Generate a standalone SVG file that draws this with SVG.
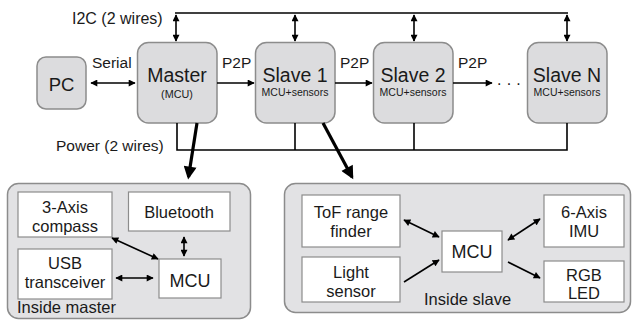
<svg xmlns="http://www.w3.org/2000/svg" width="632" height="320" viewBox="0 0 632 320">
<defs>
<style>
text{font-family:"Liberation Sans",Arial,sans-serif;fill:#1a1a1a}
.node{fill:#dcdcde;stroke:#8c8c8c;stroke-width:1.5}
.panel{fill:#e2e2e4;stroke:#8c8c8c;stroke-width:1.5}
.box{fill:#ffffff;stroke:#8c8c8c;stroke-width:1.2}
.ln{fill:none;stroke:#000;stroke-width:1.6}
.thick{fill:none;stroke:#000;stroke-width:3.2}
.big{font-size:19.5px}
.sub{font-size:10.5px}
.lbl{font-size:15.5px}
.in{font-size:16.5px}
</style>
<marker id="ah" viewBox="0 0 10 10" refX="9" refY="5" markerWidth="8" markerHeight="7" markerUnits="userSpaceOnUse" orient="auto-start-reverse">
<path d="M0,0 L10,5 L0,10 z" fill="#000"/>
</marker>
<marker id="ahb" viewBox="0 0 10 10" refX="8" refY="5" markerWidth="14" markerHeight="13" markerUnits="userSpaceOnUse" orient="auto">
<path d="M0,0 L10,5 L0,10 z" fill="#000"/>
</marker>
</defs>

<g id="labels">
<text class="lbl" x="72" y="24" style="font-size:16px">I2C (2 wires)</text>
<text class="lbl" x="92" y="68">Serial</text>
<text class="lbl" x="222" y="68">P2P</text>
<text class="lbl" x="340" y="68">P2P</text>
<text class="lbl" x="458" y="68">P2P</text>
<text class="lbl" x="56" y="151">Power (2 wires)</text>
<text x="497" y="85" style="font-size:16px;letter-spacing:5.2px">...</text>
</g>

<g id="pc"><rect class="node" x="37" y="57" width="49" height="52" rx="9"/><text x="61.5" y="91" text-anchor="middle" style="font-size:18.5px">PC</text></g>
<g id="master"><rect class="node" x="137.5" y="42.5" width="79.5" height="80.5" rx="11"/><text class="big" x="177" y="82" text-anchor="middle">Master</text><text class="sub" x="177" y="98" text-anchor="middle" style="font-size:10.8px">(MCU)</text></g>
<g id="slave1"><rect class="node" x="255.5" y="42.5" width="79.5" height="80.5" rx="11"/><text class="big" x="295" y="82" text-anchor="middle">Slave 1</text><text class="sub" x="295" y="96" text-anchor="middle">MCU+sensors</text></g>
<g id="slave2"><rect class="node" x="373.5" y="42.5" width="79.5" height="80.5" rx="11"/><text class="big" x="413" y="82" text-anchor="middle">Slave 2</text><text class="sub" x="413" y="96" text-anchor="middle">MCU+sensors</text></g>
<g id="slaveN"><rect class="node" x="527.5" y="42.5" width="79.5" height="80.5" rx="11"/><text class="big" x="567" y="82" text-anchor="middle">Slave N</text><text class="sub" x="567" y="96" text-anchor="middle">MCU+sensors</text></g>

<g id="inside-master">
<rect class="panel" x="7.5" y="183.5" width="243" height="135" rx="11"/>
<rect class="box" x="18" y="192" width="94" height="45"/>
<text class="in" x="65" y="213" text-anchor="middle">3-Axis</text>
<text class="in" x="65" y="231.5" text-anchor="middle">compass</text>
<rect class="box" x="128.5" y="192" width="101.5" height="39"/>
<text class="in" x="179" y="218" text-anchor="middle">Bluetooth</text>
<rect class="box" x="18" y="249" width="94" height="50"/>
<text class="in" x="65" y="269" text-anchor="middle">USB</text>
<text class="in" x="65" y="288" text-anchor="middle">transceiver</text>
<rect class="box" x="159" y="259" width="62" height="39"/>
<text class="in" x="190" y="287" text-anchor="middle" style="font-size:18px">MCU</text>
<text class="in" x="17" y="313">Inside master</text>
</g>

<g id="inside-slave">
<rect class="panel" x="284.5" y="183.5" width="346" height="129" rx="11"/>
<rect class="box" x="302" y="195" width="98" height="52"/>
<text class="in" x="351" y="218" text-anchor="middle">ToF range</text>
<text class="in" x="351" y="237" text-anchor="middle">finder</text>
<rect class="box" x="302" y="257" width="98" height="45"/>
<text class="in" x="351" y="278" text-anchor="middle">Light</text>
<text class="in" x="351" y="297" text-anchor="middle">sensor</text>
<rect class="box" x="442" y="231" width="60" height="41"/>
<text class="in" x="472" y="258" text-anchor="middle" style="font-size:18px">MCU</text>
<rect class="box" x="544" y="195" width="80" height="52"/>
<text class="in" x="584" y="218" text-anchor="middle">6-Axis</text>
<text class="in" x="584" y="237" text-anchor="middle">IMU</text>
<rect class="box" x="544" y="261" width="80" height="41"/>
<text class="in" x="584" y="281" text-anchor="middle">RGB</text>
<text class="in" x="584" y="299" text-anchor="middle">LED</text>
<text class="in" x="424" y="305">Inside slave</text>
</g>

<g id="connectors">
<line class="ln" x1="175" y1="13" x2="568" y2="13"/>
<line class="ln" x1="176" y1="15" x2="176" y2="41" marker-start="url(#ah)" marker-end="url(#ah)"/>
<line class="ln" x1="295" y1="15" x2="295" y2="41" marker-start="url(#ah)" marker-end="url(#ah)"/>
<line class="ln" x1="414" y1="15" x2="414" y2="41" marker-start="url(#ah)" marker-end="url(#ah)"/>
<line class="ln" x1="567" y1="15" x2="567" y2="41" marker-start="url(#ah)" marker-end="url(#ah)"/>
<path class="ln" d="M177,123 V150 H567 V123"/>
<line class="ln" x1="295" y1="123" x2="295" y2="150"/>
<line class="ln" x1="414" y1="123" x2="414" y2="150"/>
<line class="ln" x1="91" y1="83" x2="135" y2="83" marker-start="url(#ah)" marker-end="url(#ah)"/>
<line class="ln" x1="217" y1="83" x2="254" y2="83" marker-end="url(#ah)"/>
<line class="ln" x1="335" y1="83" x2="372" y2="83" marker-end="url(#ah)"/>
<line class="ln" x1="453" y1="83" x2="492" y2="83" marker-end="url(#ah)"/>
<line class="thick" x1="197" y1="123" x2="188.5" y2="177" marker-end="url(#ahb)"/>
<line class="thick" x1="323" y1="123" x2="352" y2="177" marker-end="url(#ahb)"/>
<line class="ln" x1="112" y1="238" x2="158" y2="259" marker-start="url(#ah)" marker-end="url(#ah)"/>
<line class="ln" x1="184" y1="237" x2="184" y2="256" marker-start="url(#ah)" marker-end="url(#ah)"/>
<line class="ln" x1="116" y1="278" x2="153" y2="278" marker-start="url(#ah)" marker-end="url(#ah)"/>
<line class="ln" x1="404" y1="220" x2="439" y2="237" marker-start="url(#ah)" marker-end="url(#ah)"/>
<line class="ln" x1="404" y1="282" x2="439" y2="260" marker-end="url(#ah)"/>
<line class="ln" x1="508" y1="240" x2="540" y2="219" marker-start="url(#ah)" marker-end="url(#ah)"/>
<line class="ln" x1="508" y1="262" x2="540" y2="278" marker-end="url(#ah)"/>
</g>
</svg>
